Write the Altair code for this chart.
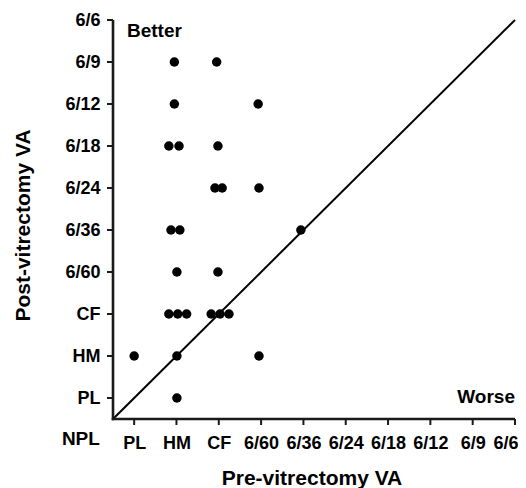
import altair as alt
import pandas as pd

# Acuity categories, index 0..10
categories = ["NPL", "PL", "HM", "CF", "6/60", "6/36", "6/24", "6/18", "6/12", "6/9", "6/6"]

# Patients: pre-vitrectomy (x, slightly jittered as in the figure) and post-vitrectomy (y) acuity index
pre_va = [1.95, 2.95,
          1.95, 3.93,
          1.82, 2.06, 2.98,
          2.91, 3.08, 3.95,
          1.87, 2.08, 4.94,
          2.01, 2.98,
          1.82, 2.03, 2.24, 2.82, 3.03, 3.24,
          1.00, 2.01, 3.95,
          2.01]
post_va = [9, 9,
           8, 8,
           7, 7, 7,
           6, 6, 6,
           5, 5, 5,
           4, 4,
           3, 3, 3, 3, 3, 3,
           2, 2, 2,
           1]

# Axis frame (index units) and ticks
axis_lo = 0.5
axis_hi = 10
tick_vals = list(range(1, 11))

note_text = ["Better", "Worse", "NPL"]
note_x = [0.83, 10.0, 0.19]
note_y = [9.60, 0.88, -0.12]
note_align = ["left", "right", "right"]

pts = pd.DataFrame({"pre": pre_va, "post": post_va})
diag = pd.DataFrame({"pre": [axis_lo, axis_hi], "post": [axis_lo, axis_hi]})
ticks = pd.DataFrame({"v": tick_vals})
one = pd.DataFrame({"a": [0]})
notes = pd.DataFrame({"pre": note_x, "post": note_y, "text": note_text, "align": note_align})

label_expr = "[" + ",".join("'" + c + "'" for c in categories) + "][datum.value]"

FONT = "Liberation Sans"
INK = "#1a1a1a"

UX = 402 / (axis_hi - axis_lo)
UY = 399 / (axis_hi - axis_lo)
xscale = alt.Scale(domain=[axis_lo - 8 / UX, axis_hi + 3 / UX], nice=False, zero=False)
yscale = alt.Scale(domain=[axis_lo - 8 / UY, axis_hi + 3 / UY], nice=False, zero=False)

common = dict(values=tick_vals, labelExpr=label_expr, domain=False, ticks=False, grid=False,
              labelFont=FONT, labelFontSize=18, labelFontWeight="bold",
              labelColor="black", labelFlush=False, labelOverlap=False,
              titleFont=FONT, titleFontSize=21, titleFontWeight="bold", titleColor="black")

xaxis = alt.Axis(title="Pre-vitrectomy VA", labelPadding=7, labelAngle=0,
                 labelAlign={"condition": {"test": "datum.value == 10", "value": "right"},
                             "value": "center"},
                 labelOffset={"condition": {"test": "datum.value == 10", "value": 3},
                              "value": 0},
                 titleY=57, titleBaseline="alphabetic", **common)
yaxis = alt.Axis(title="Post-vitrectomy VA", labelPadding=5,
                 titleX=-82, titleY=208, titleAngle=270, titleBaseline="middle", **common)

X = alt.X("pre:Q", scale=xscale, axis=xaxis)
Y = alt.Y("post:Q", scale=yscale, axis=yaxis)

points = alt.Chart(pts).mark_circle(size=90, color="black", opacity=1).encode(x=X, y=Y)

diag_line = alt.Chart(diag).mark_line(color="black", strokeWidth=2).encode(x=X, y=Y)

# axis lines as thin filled rectangles
y_frame = alt.Chart(one).mark_rect(color=INK, opacity=1, xOffset=-1.3, x2Offset=1.3,
                                   y2Offset=1.3).encode(
    x=alt.datum(axis_lo, scale=xscale), x2=alt.datum(axis_lo),
    y=alt.datum(axis_hi, scale=yscale), y2=alt.datum(axis_lo))
x_frame = alt.Chart(one).mark_rect(color=INK, opacity=1, yOffset=-1.3, y2Offset=1.3,
                                   xOffset=-1.3).encode(
    x=alt.datum(axis_lo, scale=xscale), x2=alt.datum(axis_hi),
    y=alt.datum(axis_lo, scale=yscale), y2=alt.datum(axis_lo))

x_ticks = alt.Chart(ticks).mark_rect(color=INK, opacity=1, xOffset=-1, x2Offset=1,
                                     y2Offset=6).encode(
    x=alt.X("v:Q", scale=xscale, axis=xaxis), x2="v:Q",
    y=alt.datum(axis_lo, scale=yscale), y2=alt.datum(axis_lo))
y_ticks = alt.Chart(ticks).mark_rect(color=INK, opacity=1, yOffset=-1, y2Offset=1,
                                     xOffset=-6).encode(
    y=alt.Y("v:Q", scale=yscale, axis=yaxis), y2="v:Q",
    x=alt.datum(axis_lo, scale=xscale), x2=alt.datum(axis_lo))

def note_layer(al):
    return alt.Chart(notes).transform_filter(
        alt.datum.align == al
    ).mark_text(font=FONT, fontSize=19, fontWeight="bold", color="black",
                baseline="alphabetic", align=al).encode(
        x=X, y=Y, text="text:N",
    )

chart = alt.layer(diag_line, y_frame, x_frame, x_ticks, y_ticks, points,
                  note_layer("left"), note_layer("right")).properties(
    width=413, height=410,
    autosize=alt.AutoSizeParams(type="none"),
    padding={"left": 97, "top": 9, "right": 0, "bottom": 61},
).configure_view(stroke=None)

chart.save("out.html", embed_options={"renderer": "svg", "actions": False})
